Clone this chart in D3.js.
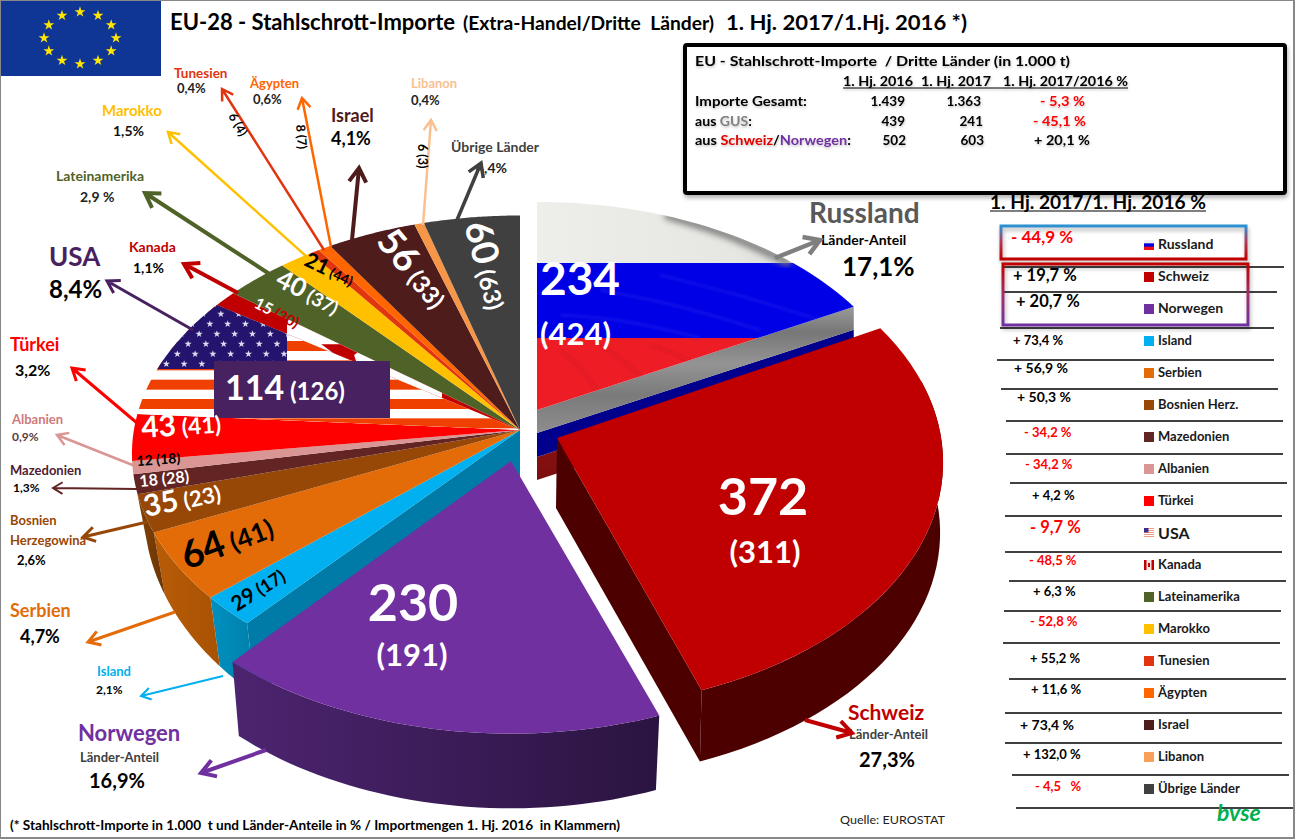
<!DOCTYPE html>
<html><head><meta charset="utf-8">
<script src="https://cdnjs.cloudflare.com/ajax/libs/d3/7.8.5/d3.min.js"></script>
<style>html,body{margin:0;padding:0;background:#fff}svg{display:block;font-family:Lato,"Open Sans",sans-serif}</style>
</head><body><svg id="c" width="1295" height="839"></svg>
<script>
// ---- data ----
const categories = ["Russland","Schweiz","Norwegen","Island","Serbien","Bosnien Herz.","Mazedonien","Albanien","Türkei","USA","Kanada","Lateinamerika","Marokko","Tunesien","Ägypten","Israel","Libanon","Übrige Länder"];
const imports2017 = [234,372,230,29,64,35,18,12,43,114,15,40,21,6,8,56,6,60];
const imports2016 = [424,311,191,17,41,23,28,18,41,126,30,37,44,4,7,33,3,63];
const changes = ["- 44,9 %","+ 19,7 %","+ 20,7 %","+ 73,4 %","+ 56,9 %","+ 50,3 %","- 34,2 %","- 34,2 %","+ 4,2 %","- 9,7 %","- 48,5 %","+ 6,3 %","- 52,8 %","+ 55,2 %","+ 11,6 %","+ 73,4 %","+ 132,0 %","- 4,5   %"];
const tableHead = ["1. Hj. 2016","1. Hj. 2017","1. Hj. 2017/2016 %"];
const tableRows = ["Importe Gesamt:","aus GUS:","aus Schweiz/Norwegen:"];
const table2016 = ["1.439","439","502"];
const table2017 = ["1.363","241","603"];
const tableChange = ["- 5,3 %","- 45,1 %","+ 20,1 %"];

// ---- styling ----
const colors = ["#0000e0","#c00000","#7030a0","#00b0f0","#e36c09","#974706","#632523","#d99694","#ff0000","#ffffff","#c00000","#4f6228","#ffc000","#e0350f","#ff6600","#4f1c1c","#f79646","#404040"];
const svg = d3.select("#c");
const defs = svg.append("defs");
const pieData = d3.pie().sort(null).value(d=>d)(imports2017);
const A = i=>pieData[i];

// perspective projection of the disc
const F=390,B=.605,K=.1;
function proj(a,r,o){
  const x=Math.sin(a)*r,y=-Math.cos(a)*r,d=1-K*y;
  return [o.x+o.sx*F*x/d, o.y+o.sy*F*B*y/d];
}
const line=d3.line();
const arcPts=(a0,a1,o)=>d3.range(0,41).map(k=>proj(a0+(a1-a0)*k/40,1,o));
const wedge=(a0,a1,o)=>line([[o.x,o.y],...arcPts(a0,a1,o)])+"Z";
const band=(a0,a1,o,u)=>line([...arcPts(a0,a1,o),...arcPts(a0,a1,u).reverse()])+"Z";

const main={x:520,y:430,sx:.99,sy:1}, mainLow={x:520,y:482,sx:.96,sy:1.1};
const ru={x:537,y:410,sx:.965,sy:.97}, ch={x:557,y:438,sx:.985,sy:1.03}, chLow={x:556,y:508,sx:.98,sy:1.035};
const no={x:511,y:461,sx:1.01,sy:1.04}, noLow={x:511,y:533,sx:.987,sy:1.05};

function grad(id,x1,y1,x2,y2,stops){
  const g=defs.append("linearGradient").attr("id",id).attr("x1",x1).attr("y1",y1).attr("x2",x2).attr("y2",y2);
  stops.forEach(s=>g.append("stop").attr("offset",s[0]).attr("stop-color",s[1]));
}
grad("gNo",0,0,1,0,[[0,"#4c2470"],[.5,"#3c1c58"],[1,"#2a1440"]]);
grad("gSe",0,0,1,0,[[0,"#b85c06"],[1,"#a85204"]]);
grad("gBo",0,0,1,0,[[0,"#804006"],[1,"#6e3605"]]);
grad("gIs",0,0,1,0,[[0,"#0090c0"],[1,"#0080aa"]]);
grad("gWhite",0,0,1,0,[[0,"#eeeeea"],[.6,"#e6e6e2"],[.85,"#d8d8d4"],[1,"#e2e2de"]]);
grad("gBoxA",0,0,0,1,[[0,"#2a92d2"],[.45,"#aa4060"],[1,"#c00000"]]);
grad("gBoxB",0,0,0,1,[[0,"#c00000"],[.5,"#a0306a"],[1,"#7030a0"]]);
grad("gRuRed",0,0,0,1,[[0,"#a51818"],[1,"#7c0e0e"]]);
grad("gGrey",0,0,0,1,[[0,"#9a9a9a"],[.2,"#777"],[.45,"#949494"],[.7,"#7a7a7a"],[1,"#8e8e8e"]]);
const sh=defs.append("filter").attr("id","shadow").attr("x","-5%").attr("y","-10%").attr("width","110%").attr("height","125%");
sh.append("feDropShadow").attr("dx",1).attr("dy",3).attr("stdDeviation",2).attr("flood-color","#000").attr("flood-opacity",.3);
const ts=defs.append("filter").attr("id","tshadow").attr("x","-5%").attr("y","-20%").attr("width","110%").attr("height","150%");
ts.append("feDropShadow").attr("dx",0.5).attr("dy",1.5).attr("stdDeviation",1).attr("flood-color","#000").attr("flood-opacity",.25);
defs.append("filter").attr("id","blur").append("feGaussianBlur").attr("stdDeviation",3);
defs.append("filter").attr("id","blur2").append("feGaussianBlur").attr("stdDeviation",1.5);

// text helper
function T(x,y,parts,opt={}){
  const t=(opt.g||svg).append("text").attr("x",x).attr("y",y).style("white-space","pre");
  if(opt.anchor)t.attr("text-anchor",opt.anchor);
  if(opt.rot)t.attr("transform",`rotate(${opt.rot} ${x} ${y})`);
  const list=Array.isArray(parts)?parts:[{t:parts}];
  list.forEach(p=>{
    t.append("tspan").text(p.t).attr("font-size",p.s||opt.s||13).attr("fill",p.f||opt.f||"#000").attr("font-weight",p.w||opt.w||700);
  });
  if(opt.len)t.attr("textLength",opt.len).attr("lengthAdjust","spacingAndGlyphs");
  return t;
}

// ---- main disc: sides ----
const gMain=svg.append("g");
gMain.append("path").attr("d",band(A(3).startAngle,A(3).endAngle,main,mainLow)).attr("fill","url(#gIs)");
gMain.append("path").attr("d",band(A(4).startAngle,A(4).endAngle,main,mainLow)).attr("fill","url(#gSe)");
gMain.append("path").attr("d",line([...arcPts(A(5).startAngle,A(5).startAngle+.17,main),...arcPts(A(5).startAngle,A(5).startAngle+.17,mainLow).reverse()])+"Z").attr("fill","url(#gBo)");
const cutA=proj(A(3).startAngle,1,main), cutB=proj(A(3).startAngle,1,mainLow);
gMain.append("path").attr("d",line([[main.x,main.y],cutA,cutB,[main.x,main.y+70]])+"Z").attr("fill","#007ba7");
pieData.forEach((d,i)=>{
  if(i<3)return;
  gMain.append("path").attr("d",wedge(d.startAngle,d.endAngle,main)).attr("fill",colors[i]);
});
// USA flag
defs.append("clipPath").attr("id","cUSA").append("path").attr("d",wedge(A(9).startAngle,A(9).endAngle,main));
const gUS=svg.append("g").attr("clip-path","url(#cUSA)");
const yStripes=d3.scaleLinear().domain([0,6]).range([283,399]);
d3.range(0,8).forEach(k=>{
  gUS.append("rect").attr("x",120).attr("width",420).attr("y",yStripes(k)).attr("height",10).attr("fill","#f04000");
});
gUS.append("rect").attr("x",120).attr("y",290).attr("width",167).attr("height",79).attr("fill","#24146e");
const xStar=d3.scaleLinear().domain([0,9]).range([125,285]), yStar=d3.scaleLinear().domain([0,6]).range([304,364]);
d3.range(0,7).forEach(r=>d3.range(0,10).forEach(c=>{
  const off=(r%2)*9;
  gUS.append("path").attr("d",d3.symbol(d3.symbolStar,16)()).attr("fill","#dcdcf0")
   .attr("transform",`translate(${xStar(c)+off-r*2},${yStar(r)})`);
}));
// Kanada flag
defs.append("clipPath").attr("id","cCA").append("path").attr("d",wedge(A(10).startAngle,A(10).endAngle,main));
const gCA=svg.append("g").attr("clip-path","url(#cCA)");
gCA.append("rect").attr("x",287).attr("y",280).attr("width",155).attr("height",120).attr("fill","#fff");
gCA.append("path").attr("d",d3.symbol(d3.symbolStar,700)()).attr("fill","#c00000").attr("transform","translate(345,352)");
svg.append("rect").attr("x",214).attr("y",361).attr("width",176).attr("height",57).attr("fill","#472160");

// ---- Russland ----
const gRu=svg.append("g");
const ruA=[ru.x,ru.y], ruB=proj(A(0).endAngle,1,ru);
const quad=(k0,k1)=>line([[ruA[0],ruA[1]+k0],[ruB[0],ruB[1]+k0],[ruB[0],ruB[1]+k1],[ruA[0],ruA[1]+k1]])+"Z";
gRu.append("path").attr("d",quad(47,70)).attr("fill","url(#gRuRed)");
gRu.append("path").attr("d",quad(23,47)).attr("fill","#00008c");
gRu.append("path").attr("d",quad(0,23)).attr("fill","url(#gGrey)");
defs.append("clipPath").attr("id","cRU").append("path").attr("d",wedge(A(0).startAngle,A(0).endAngle,ru));
const gFlag=gRu.append("g").attr("clip-path","url(#cRU)");
gFlag.append("rect").attr("x",530).attr("y",190).attr("width",340).attr("height",73).attr("fill","url(#gWhite)");
gFlag.append("rect").attr("x",530).attr("y",263).attr("width",340).attr("height",75).attr("fill","#0000e6");
gFlag.append("rect").attr("x",530).attr("y",338).attr("width",340).attr("height",80).attr("fill","#ee1c25");
const folds=[[[665,215],[725,232],[790,263]]];
gFlag.append("g").attr("filter","url(#blur)").selectAll("path").data(folds).join("path")
  .attr("d",d3.line().curve(d3.curveBasis)).attr("fill","none").attr("stroke","#808080").attr("stroke-width",8);
const streaksBlue=[[[600,290],[680,305],[760,330]],[[660,275],[740,295],[820,320]],[[560,315],[630,320],[700,338]]];
gFlag.append("g").attr("filter","url(#blur2)").selectAll("path").data(streaksBlue).join("path")
  .attr("d",d3.line().curve(d3.curveBasis)).attr("fill","none").attr("stroke","#3030f0").attr("stroke-width",2).attr("opacity",.45);
const streaksRed=[[[560,350],[590,375],[600,400]],[[600,345],[630,365],[650,385]],[[650,345],[680,355],[700,368]]];
gFlag.append("g").attr("filter","url(#blur2)").selectAll("path").data(streaksRed).join("path")
  .attr("d",d3.line().curve(d3.curveBasis)).attr("fill","none").attr("stroke","#c01a1e").attr("stroke-width",2).attr("opacity",.45);

// ---- Schweiz ----
const a1=A(1).startAngle,a2=A(1).endAngle;
svg.append("path").attr("d",line([[ch.x,ch.y],proj(a2,1,ch),proj(a2,1,chLow),[chLow.x,chLow.y]])+"Z").attr("fill","#4d0000");
svg.append("path").attr("d",band(a1+.25,a2,ch,chLow)).attr("fill","#4d0000");
svg.append("path").attr("d",wedge(a1,a2,ch)).attr("fill","#c00000");
// ---- Norwegen ----
const n1=A(2).startAngle,n2=A(2).endAngle;
svg.append("path").attr("d",band(n1,n2,no,noLow)).attr("fill","url(#gNo)");
svg.append("path").attr("d",wedge(n1,n2,no)).attr("fill","#7030a0");

// ---- frame, flag, title ----
svg.append("rect").attr("x",0).attr("y",0).attr("width",1294).attr("height",838).attr("fill","none").attr("stroke","#888").attr("stroke-width",2);
svg.append("rect").attr("x",1).attr("y",1).attr("width",160).attr("height",75).attr("fill","#103695");
const star=d3.symbol(d3.symbolStar,36)();
d3.range(12).forEach(k=>{
  const a=k/12*2*Math.PI;
  svg.append("path").attr("d",star).attr("fill","#ffe600").attr("transform",`translate(${80+36*Math.sin(a)},${38-26*Math.cos(a)})`);
});
T(170,30,"EU-28 - Stahlschrott-Importe",{s:23,len:285});
T(463,30,"(Extra-Handel/Dritte  Länder)",{s:18.5,len:251});
T(726,30,"1. Hj. 2017/1.Hj. 2016 *)",{s:21,len:241});

// ---- info box ----
const gBox=svg.append("g");
gBox.append("rect").attr("x",685).attr("y",45).attr("width",600).attr("height",148).attr("fill","#fff").attr("stroke","#000").attr("stroke-width",4).attr("rx",2).attr("filter","url(#shadow)");
const gBT=svg.append("g").attr("filter","url(#tshadow)");
T(695,66,"EU - Stahlschrott-Importe  / Dritte Länder (in 1.000 t)",{g:gBT,s:14,len:375});
const hx=[843,921,1003],hw=[70,70,125];
tableHead.forEach((h,i)=>T(hx[i],86,h,{g:gBT,s:13,len:hw[i]}));
gBT.append("line").attr("x1",843).attr("x2",1128).attr("y1",88).attr("y2",88).attr("stroke","#000").attr("stroke-width",1);
const rowY=d3.scalePoint().domain(tableRows).range([106,145]);
T(695,rowY(tableRows[0]),tableRows[0],{g:gBT,s:13,len:112});
T(695,rowY(tableRows[1]),[{t:"aus "},{t:"GUS",f:"#808080"},{t:":"}],{g:gBT,s:13,len:57});
T(695,rowY(tableRows[2]),[{t:"aus "},{t:"Schweiz",f:"#e00000"},{t:"/"},{t:"Norwegen",f:"#7030a0"},{t:":"}],{g:gBT,s:13,len:156});
const e16=[905,905,906],e17=[981,983,984],xc=[1040,1033,1034],wc=[45,53,56];
tableRows.forEach((r,i)=>{
  T(e16[i],rowY(r),table2016[i],{g:gBT,s:13.5,anchor:"end"});
  T(e17[i],rowY(r),table2017[i],{g:gBT,s:13.5,anchor:"end"});
  T(xc[i],rowY(r),tableChange[i],{g:gBT,s:14,f:tableChange[i][0]=="-"?"#ff0000":"#000",len:wc[i]});
});

// ---- right table ----
T(990,209,"1. Hj. 2017/1. Hj. 2016 %",{s:18,w:700,len:216});
svg.append("line").attr("x1",990).attr("x2",1206).attr("y1",211).attr("y2",211).attr("stroke","#000").attr("stroke-width",1.2);
const rows=d3.scaleLinear().domain([0,17]).range([240,784]);
const rules=[[1002,1284,267],[1004,1277,292],[1000,1274,328],[997,1274,360],[1001,1278,389],[1006,1283,421],[1006,1283,454],[1010,1287,483],[1005,1282,516],[1005,1282,552],[1009,1286,581],[1004,1281,611],[1003,1280,643],[1009,1286,679],[1005,1282,713],[1005,1282,743],[1012,1289,775],[1016,1293,808]];
rules.forEach(r=>svg.append("line").attr("x1",r[0]).attr("x2",r[1]).attr("y1",r[2]).attr("y2",r[2]).attr("stroke","#000").attr("stroke-width",1.4));
svg.append("rect").attr("x",1001).attr("y",226).attr("width",245).attr("height",33).attr("fill","none").attr("stroke","url(#gBoxA)").attr("stroke-width",3).attr("filter","url(#shadow)");
svg.append("rect").attr("x",1003).attr("y",264).attr("width",245).attr("height",61).attr("fill","none").attr("stroke","url(#gBoxB)").attr("stroke-width",3).attr("filter","url(#shadow)");
const cX=[1011,1013,1016,1013,1014,1017,1024,1025,1032,1030,1029,1033,1030,1030,1031,1020,1023,1035];
const cY=[243,281,307,345,373,402,437,469,500,533,565,596,626,663,694,730,759,791];
const cS=[17,16.5,16.5,13,14,14,13,13,13,16.5,13,13,13,13,13,14,13,13];
const swatch=["#0000e0","#c00000","#7030a0","#00b0f0","#e36c09","#974706","#632523","#d99694","#ff0000","#f79a80","#c00000","#4f6228","#ffc000","#e0350f","#ff6600","#4f1c1c","#f7a05a","#404040"];
categories.forEach((c,i)=>{
  T(cX[i],cY[i],changes[i],{s:cS[i],f:changes[i][0]=="-"?"#ff0000":"#000"});
  const y=rows(i);
  svg.append("rect").attr("x",1144).attr("y",y).attr("width",10).attr("height",10).attr("fill",swatch[i]);
  if(i==0){
    svg.append("rect").attr("x",1144).attr("y",y).attr("width",10).attr("height",3.3).attr("fill","#eee");
    svg.append("rect").attr("x",1144).attr("y",y+6.7).attr("width",10).attr("height",3.3).attr("fill","#f01010");
  }
  if(i==9){
    d3.range(5).forEach(k=>svg.append("rect").attr("x",1144).attr("y",y+k*2+1).attr("width",10).attr("height",1).attr("fill","#fff"));
    svg.append("rect").attr("x",1144).attr("y",y).attr("width",4.5).attr("height",4.5).attr("fill","#3c2e8c");
  }
  if(i==10){
    svg.append("rect").attr("x",1146.5).attr("y",y).attr("width",5).attr("height",10).attr("fill","#f4e4e4");
    svg.append("rect").attr("x",1148).attr("y",y+3).attr("width",2).attr("height",4).attr("fill","#c00000");
  }
  T(1158,y+9+(i==9?2:0),c,{s:i==9?16:(i==0||i==2||i==1)?14:13,f:"#1a1a1a"});
});

// ---- arrows ----
const arrows=[
 [[775,258],[820,240],"#7f7f7f",4.5],[[805,720],[852,733],"#c00000",4],[[266,750],[201,773],"#7030a0",4],
 [[223,676],[141,696],"#00b0f0",2],[[175,612],[88,642],"#e36c09",3],[[147,522],[83,537],"#974706",3],
 [[137,489],[53,488],"#632523",2],[[135,466],[57,435],"#d99694",2.5],[[137,423],[72,368],"#ff0000",3],
 [[193,330],[107,281],"#472160",3],[[238,293],[184,264],"#c00000",4],[[271,275],[145,193],"#4f6228",4],
 [[307,257],[168,132],"#ffc000",2.5],[[324,250],[222,89],"#e0350f",2.5],[[331,247],[302,98],"#ff6600",2.5],
 [[352,240],[359,168],"#4f1c1c",4],[[423,225],[431,120],"#fac090",2.5],[[457,220],[481,163],"#404040",3.5]];

// ---- outside labels ----
const outside=[
 [174,78,"Tunesien",13.5,"#e0350f"],[177,93,"0,4%",13,"#222"],
 [250,88,"Ägypten",13,"#ff6600"],[253,104,"0,6%",13,"#222"],
 [102,116,"Marokko",15,"#ffc000"],[113,136,"1,5%",14,"#111"],
 [331,122,"Israel",18,"#4f1c1c"],[331,145,"4,1%",18,"#000"],
 [411,88,"Libanon",13,"#fac090"],[411,105,"0,4%",13,"#222"],
 [451,152,"Übrige Länder",14,"#404040"],[476,173,"4,4%",14,"#222"],
 [56,181,"Lateinamerika",14,"#4f6228"],[80,202,"2,9 %",14,"#222"],
 [129,252,"Kanada",14,"#c00000"],[133,273,"1,1%",14,"#000"],
 [49,266,"USA",26,"#472160"],[49,298,"8,4%",24,"#000"],
 [10,351,"Türkei",18,"#ff0000"],[15,376,"3,2%",16,"#000"],
 [12,424,"Albanien",13,"#d07a7a"],[12,441,"0,9%",12,"#5d3a3a"],
 [10,475,"Mazedonien",13,"#4f2030"],[13,492,"1,3%",12,"#000"],
 [10,525,"Bosnien",13,"#974706"],[10,545,"Herzegowina",13,"#974706"],[17,565,"2,6%",13,"#000"],
 [10,617,"Serbien",18,"#e36c09"],[20,643,"4,7%",18,"#000"],
 [97,676,"Island",13,"#00b0f0"],[96,694,"2,1%",12,"#000"],
 [78,741,"Norwegen",22,"#7030a0"],[80,762,"Länder-Anteil",13,"#404040"],[89,788,"16,9%",20,"#000"],
 [848,720,"Schweiz",21,"#c00000"],[849,739,"Länder-Anteil",13,"#404040"],[859,767,"27,3%",20,"#000"],
 [809,223,"Russland",28,"#595959"],[821,245,"Länder-Anteil",14,"#000"],[842,276,"17,1%",26,"#000"]
];
outside.forEach(o=>T(o[0],o[1],o[2],{s:o[3],f:o[4]}));

arrows.forEach(a=>{
  const [p,q,col,w]=a,ang=Math.atan2(q[1]-p[1],q[0]-p[0]),L=6+w*2.6,s=.55;
  const h1=[q[0]-L*Math.cos(ang-s),q[1]-L*Math.sin(ang-s)],h2=[q[0]-L*Math.cos(ang+s),q[1]-L*Math.sin(ang+s)];
  svg.append("path").attr("d",line([p,q])+line([h1,q,h2])).attr("fill","none").attr("stroke",col).attr("stroke-width",w);
});

// ---- slice labels ----
const pair=(i)=>({a:String(imports2017[i]),b:`(${imports2016[i]})`});
function L(i,x,y,sA,sB,f,rot,fB){
  const p=pair(i);
  T(x,y,[{t:p.a,s:sA,f},{t:" "+p.b,s:sB,f:fB||f}],{rot});
}
T(540,295,pair(0).a,{s:46,f:"#fff"}); T(540,345,pair(0).b,{s:31,f:"#fff"});
T(763,515,pair(1).a,{s:52,f:"#fff",anchor:"middle"}); T(765,563,pair(1).b,{s:31,f:"#fff",anchor:"middle"});
T(413,621,pair(2).a,{s:52,f:"#fff",anchor:"middle"}); T(412,666,pair(2).b,{s:31,f:"#fff",anchor:"middle"});
L(9,225,400,34,24,"#fff",0);
L(8,142,438,30,23,"#fff",-4);
L(7,137,466,14,14,"#000",-4);
L(6,140,487,16,16,"#fff",-6);
L(5,146,517,30,22,"#fff",-12);
L(4,187,570,38,26,"#000",-21);
L(3,237,612,21,18,"#000",-33);
L(10,253,307,16,15,"#fff",27,"#c00000");
L(11,274,285,26,19,"#fff",27);
L(12,303,265,21,14,"#000",25);
L(15,375,242,37,24,"#fff",50);
L(17,464,225,37,24,"#fff",75);
T(228,116,pair(13).a+" "+pair(13).b,{s:12.5,rot:60});
T(296,125,pair(14).a+" "+pair(14).b,{s:12.5,rot:85});
T(418,144,pair(16).a+" "+pair(16).b,{s:12.5,rot:90});

// ---- footer ----
T(10,830,"(* Stahlschrott-Importe in 1.000  t und Länder-Anteile in % / Importmengen 1. Hj. 2016  in Klammern)",{s:13,len:610});
T(840,824,"Quelle: EUROSTAT",{s:12,w:400,f:"#222",len:105});
T(1217,821,"bvse",{s:23,f:"#00b050"}).attr("font-style","italic");
</script></body></html>
